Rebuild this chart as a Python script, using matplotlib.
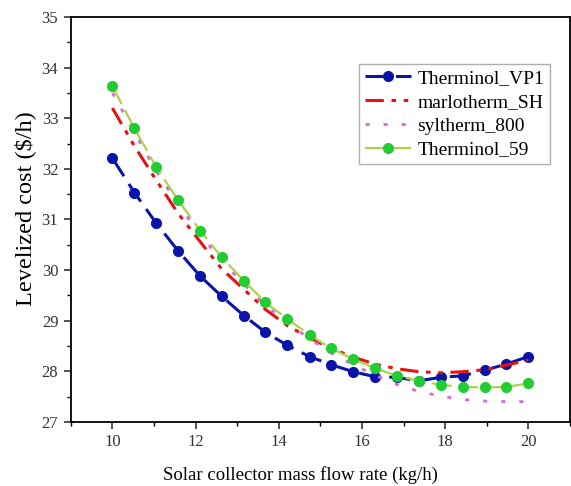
import matplotlib
matplotlib.use("Agg")
import matplotlib.pyplot as plt
from matplotlib.ticker import MultipleLocator

plt.rcParams["font.family"] = ["Liberation Serif", "DejaVu Serif"]

# mass flow rate (kg/h)
flow = [10.0, 10.53, 11.05, 11.58, 12.11, 12.63, 13.16, 13.68, 14.21, 14.74,
        15.26, 15.79, 16.32, 16.84, 17.37, 17.89, 18.42, 18.95, 19.47, 20.0]

# levelized cost ($/h) per heat transfer fluid
vp1 = [32.21, 31.53, 30.93, 30.38, 29.88, 29.48, 29.10, 28.77, 28.51, 28.29,
       28.13, 27.99, 27.89, 27.88, 27.81, 27.88, 27.91, 28.02, 28.14, 28.29]
marlotherm = [33.20, 32.45, 31.78, 31.12, 30.56, 30.02, 29.62, 29.22, 28.90, 28.66,
              28.45, 28.28, 28.14, 28.05, 27.99, 27.97, 27.99, 28.03, 28.12, 28.22]
syltherm = [33.50, 32.72, 31.96, 31.30, 30.70, 30.18, 29.72, 29.30, 28.96, 28.64,
            28.36, 28.13, 27.92, 27.74, 27.60, 27.51, 27.44, 27.41, 27.40, 27.40]
t59 = [33.63, 32.80, 32.04, 31.38, 30.78, 30.25, 29.79, 29.36, 29.03, 28.72,
       28.45, 28.24, 28.06, 27.91, 27.81, 27.73, 27.69, 27.68, 27.69, 27.76]

fig = plt.figure(figsize=(5.71, 4.86), dpi=100)
ax = fig.add_axes([0.124, 0.132, 0.874, 0.833])

ax.plot(flow, vp1, color="#0a14a8", linestyle=(0, (7, 3)), linewidth=2.2,
        marker="o", markersize=7, label="Therminol_VP1")
ax.plot(flow, marlotherm, color="#e81010", linestyle=(0, (6, 2.5, 1.5, 2.5, 1.5, 2.5)),
        linewidth=2.2, label="marlotherm_SH")
ax.plot(flow, syltherm, color="#d86ad8", linestyle=(0, (1.5, 5)), linewidth=2,
        label="syltherm_800")
ax.plot(flow, t59, color="#a8d44a", linestyle=(0, (9, 3)), linewidth=1.6,
        marker="o", markersize=7, markerfacecolor="#22cc33",
        markeredgecolor="#22cc33", label="Therminol_59")

ax.set_xlim(9, 21)
ax.set_ylim(27, 35)
ax.xaxis.set_major_locator(MultipleLocator(2))
ax.xaxis.set_minor_locator(MultipleLocator(1))
ax.yaxis.set_major_locator(MultipleLocator(1))
ax.yaxis.set_minor_locator(MultipleLocator(0.5))
ax.tick_params(which="major", length=5, width=1.2, labelsize=12, colors="#333333")
ax.tick_params(axis="y", pad=4)
ax.tick_params(which="minor", length=3, width=1)
for spine in ax.spines.values():
    spine.set_linewidth(1.3)

ax.set_xlabel("Solar collector mass flow rate (kg/h)", fontsize=13.5)
ax.set_ylabel("Levelized cost ($/h)", fontsize=17.5)
ax.xaxis.set_label_coords(0.46, -0.108)
ax.yaxis.set_label_coords(-0.07, 0.526)

leg = ax.legend(loc="upper right", bbox_to_anchor=(0.96, 0.885), fontsize=14,
                frameon=True, fancybox=False, handlelength=2.4, handletextpad=0.3,
                borderpad=0.3, labelspacing=0.32, borderaxespad=0)
leg.get_frame().set_edgecolor("#999999")
leg.get_frame().set_linewidth(1)

fig.savefig("out.png", dpi=100)
